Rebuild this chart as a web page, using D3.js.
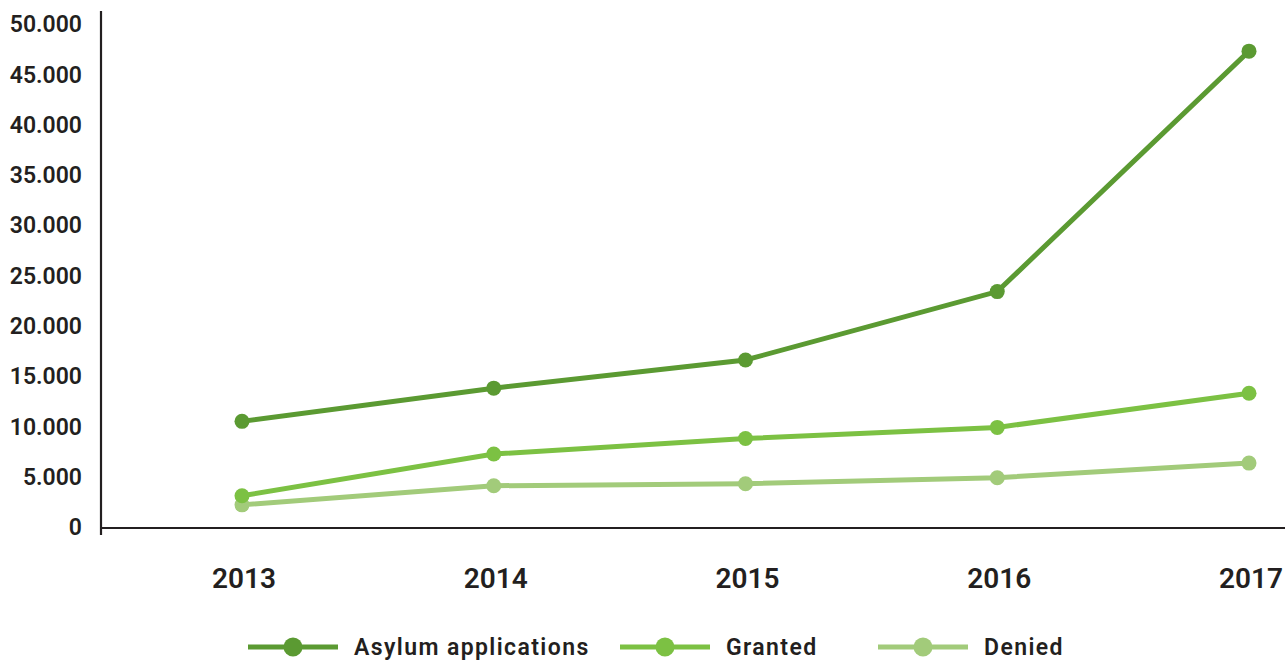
<!DOCTYPE html>
<html>
<head>
<meta charset="utf-8">
<script src="https://cdn.jsdelivr.net/npm/d3@7"></script>
<style>
  body { margin: 0; background: #fff; }
  svg text { font-family: Roboto, "Noto Sans", sans-serif; font-weight: 500; fill: #231f20; }
</style>
</head>
<body>
<div id="container"></div>
<script>
// chart data
var years = ["2013", "2014", "2015", "2016", "2017"];
var asylum = [10500, 13800, 16600, 23400, 47300];
var granted = [3100, 7250, 8800, 9900, 13300];
var denied = [2200, 4100, 4300, 4900, 6350];
var yTicks = [0, 5000, 10000, 15000, 20000, 25000, 30000, 35000, 40000, 45000, 50000];
var seriesNames = ["Asylum applications", "Granted", "Denied"];

(function(){
    var width = 1285, height = 662;
    var colors = ["#5b9a32", "#7cc143", "#a2cb7a"];
    var series = [asylum, granted, denied];

    var svg = d3.select("#container")
        .append("svg")
        .attr("width", width)
        .attr("height", height);

    //plot frame
    var left = 101, right = 1285, top = 24, bottom = 527;

    var x = d3.scalePoint()
        .domain(years)
        .range([242, 1249]);
    var y = d3.scaleLinear()
        .domain([0, 50000])
        .range([bottom, top]);

    var fmt = function(d){ return d3.format(",")(d).replace(/,/g, "."); };

    //y axis labels
    svg.selectAll(".ylab")
        .data(yTicks)
        .enter().append("text")
        .attr("class", "ylab")
        .attr("x", 82)
        .attr("y", function(d){ return y(d); })
        .attr("dy", "0.36em")
        .attr("text-anchor", "end")
        .style("font-size", "23px")
        .style("font-weight", 600)
        .text(fmt);

    //axis lines
    svg.append("line")
        .attr("x1", left).attr("x2", left)
        .attr("y1", 11).attr("y2", 535)
        .attr("stroke", "#231f20").attr("stroke-width", 2.2);
    svg.append("line")
        .attr("x1", left).attr("x2", right)
        .attr("y1", y(0) + 1).attr("y2", y(0) + 1)
        .attr("stroke", "#231f20").attr("stroke-width", 2.2);

    //year labels
    svg.selectAll(".xlab")
        .data(years)
        .enter().append("text")
        .attr("class", "xlab")
        .attr("x", function(d){ return x(d) + 2; })
        .attr("y", 588)
        .attr("text-anchor", "middle")
        .style("font-size", "28px")
        .style("font-weight", 600)
        .text(function(d){ return d; });

    var line = d3.line()
        .x(function(d, i){ return x(years[i]); })
        .y(function(d){ return y(d); });

    //draw back to front so the dark line sits on top
    for (var s = series.length - 1; s >= 0; s--) {
        var g = svg.append("g");
        g.append("path")
            .datum(series[s])
            .attr("d", line)
            .attr("fill", "none")
            .attr("stroke", colors[s])
            .attr("stroke-width", 5);
        g.selectAll("circle")
            .data(series[s])
            .enter().append("circle")
            .attr("cx", function(d, i){ return x(years[i]); })
            .attr("cy", function(d){ return y(d); })
            .attr("r", 7.5)
            .attr("fill", colors[s]);
    }

    //legend
    var legX = [248, 620, 878], legY = 647;
    seriesNames.forEach(function(name, i){
        var lg = svg.append("g").attr("transform", "translate(" + legX[i] + "," + legY + ")");
        lg.append("line")
            .attr("x1", 0).attr("x2", 90)
            .attr("stroke", colors[i]).attr("stroke-width", 5);
        lg.append("circle")
            .attr("cx", 45).attr("r", 9.5)
            .attr("fill", colors[i]);
        lg.append("text")
            .attr("x", 106)
            .attr("y", 8)
            .style("font-size", "23px")
            .style("font-weight", 600)
            .style("letter-spacing", "1.4px")
            .text(name);
    });
})();
</script>
</body>
</html>
